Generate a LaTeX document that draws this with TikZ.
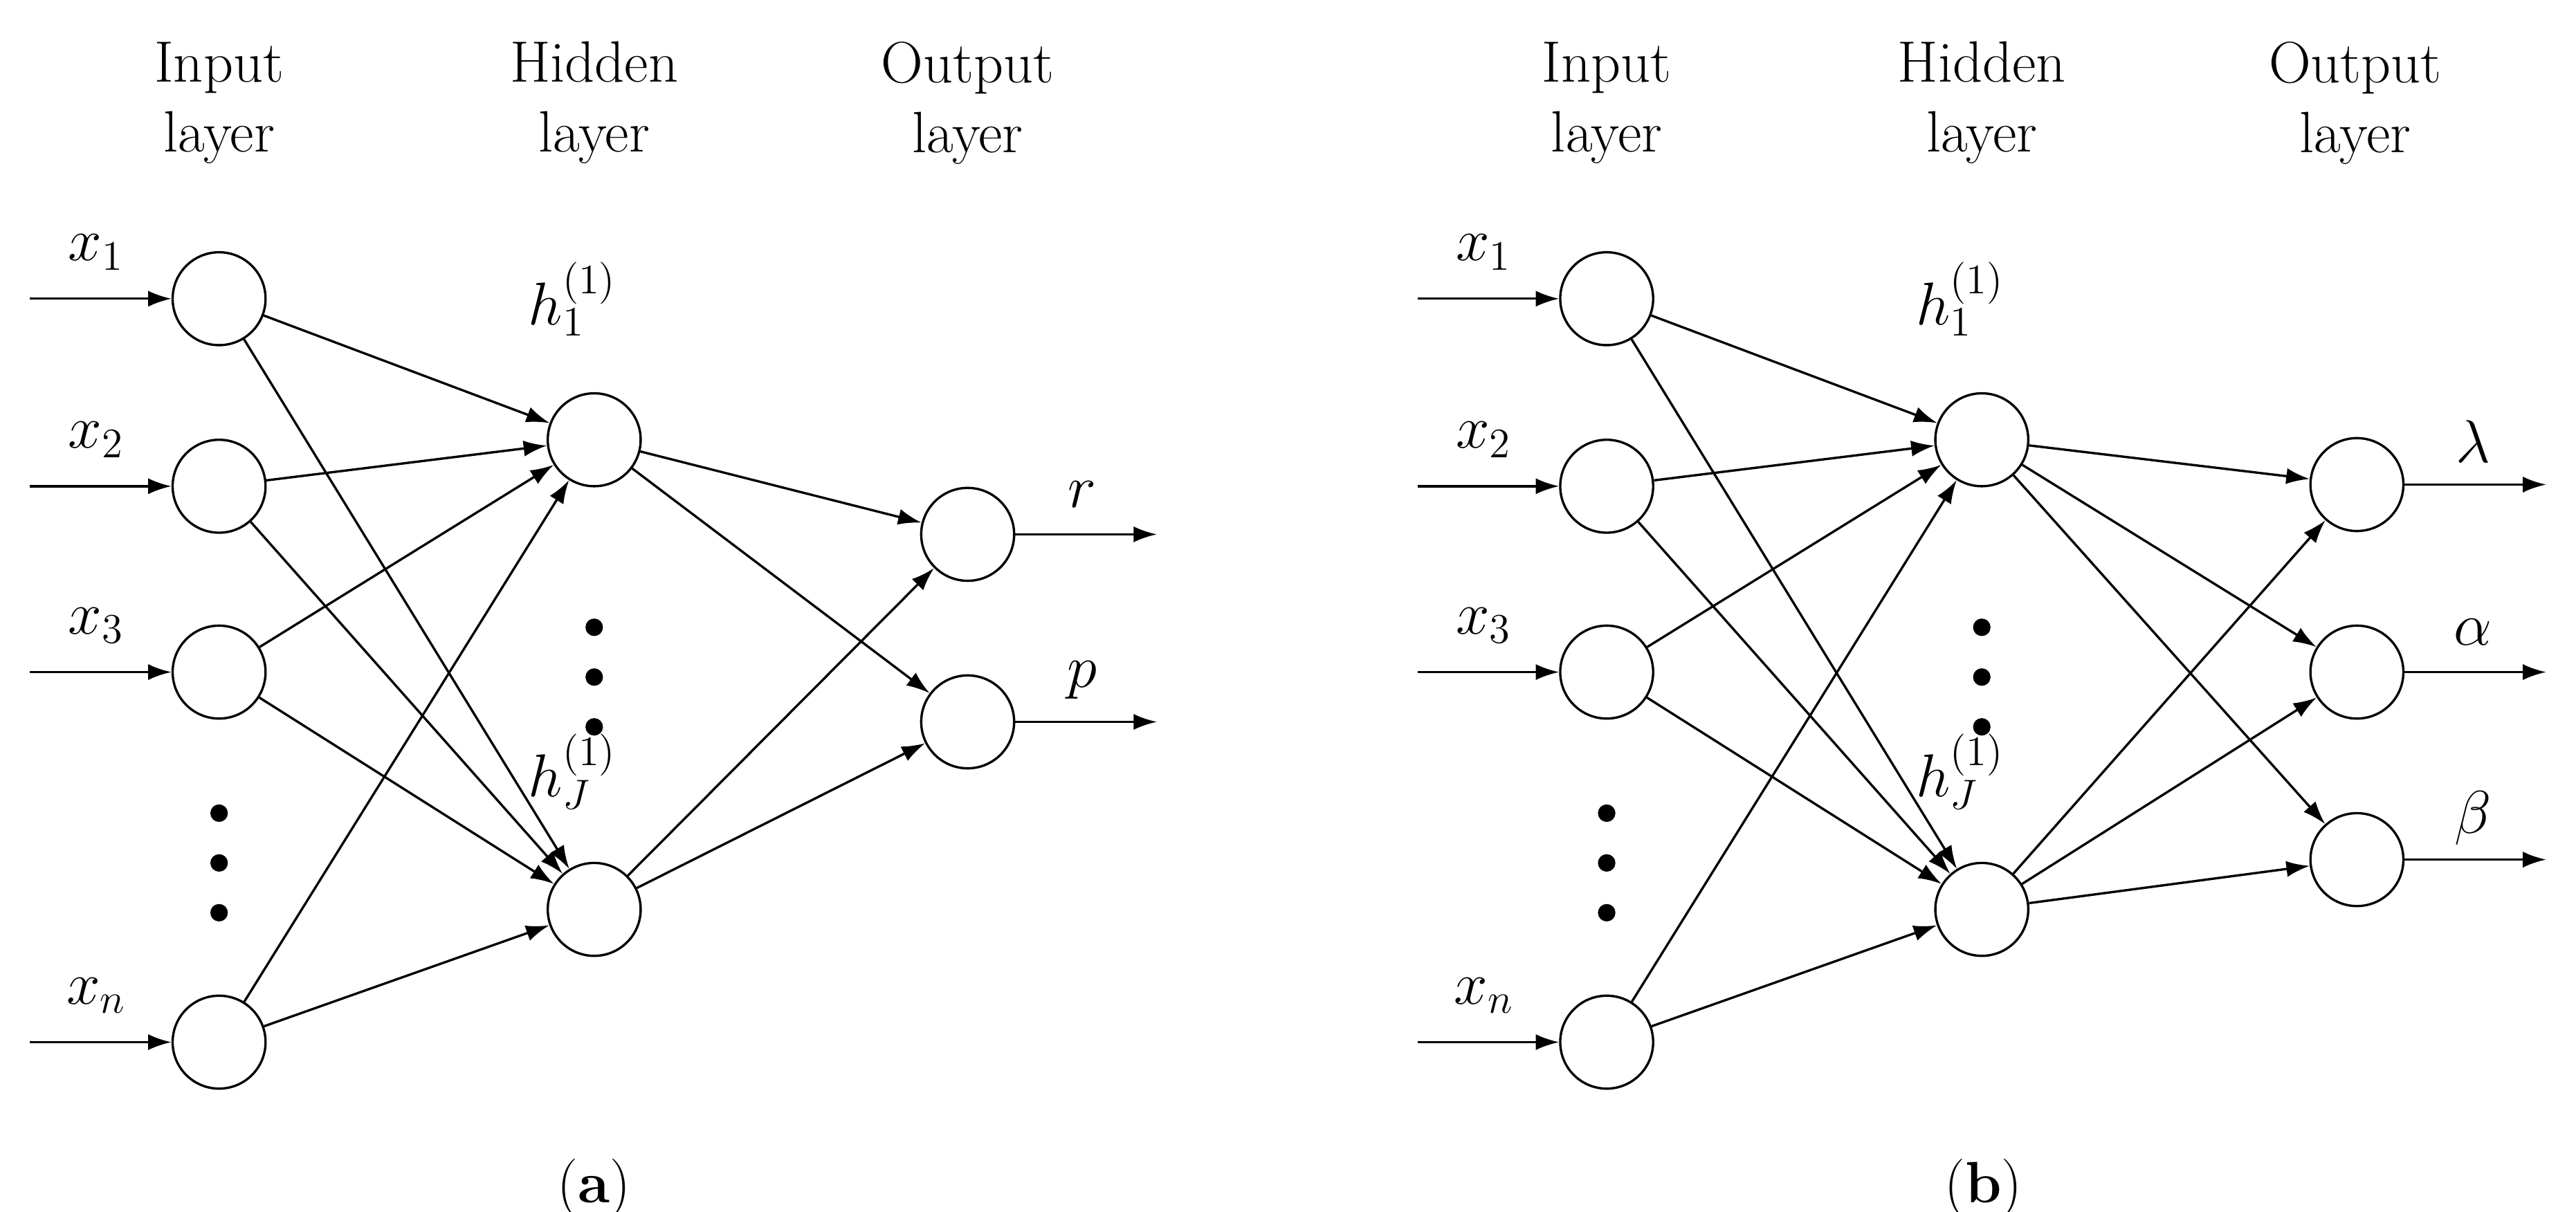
\documentclass[tikz,border=0pt]{standalone}
\usetikzlibrary{arrows.meta}
\begin{document}
\begin{tikzpicture}[x=0.02cm,y=-0.02cm,
  neu/.style={circle,draw,line width=0.8pt,minimum size=1.12cm,inner sep=0pt},
  con/.style={line width=0.8pt,-{Latex[length=8pt,width=5.5pt]}},
  lab/.style={font=\fontsize{22}{26}\selectfont},
  hd/.style={font=\fontsize{20}{24}\selectfont,align=center},
  dot/.style={circle,fill,inner sep=0pt,minimum size=6pt}]
\useasboundingbox (0,0) rectangle (1552,730);
\foreach \ox/\nm in {0/a,836/b}{
  \begin{scope}[xshift=\ox*0.02cm]
  \node[hd] (hi\nm) at (132,62) {Input\\layer};
  \node[hd] (hh\nm) at (358,62) {Hidden\\layer};
  \node[hd] (ho\nm) at (583,62) {Output\\layer};
  \foreach \i/\y in {1/180,2/293,3/405,n/628}{
    \node[neu] (i\i\nm) at (132,\y) {};
    \coordinate (s\i\nm) at (18,\y);
    \draw[con] (s\i\nm) -- (i\i\nm);
    \node[lab] at (58,\y-28) {$x_{\i}$};
  }
  \foreach \y [count=\k] in {490,520,550}{\node[dot] (di\k\nm) at (132,\y) {};}
  \node[neu] (h1\nm) at (358,265) {};
  \node[neu] (hJ\nm) at (358,548) {};
  \foreach \y [count=\k] in {378,408,438}{\node[dot] (dh\k\nm) at (358,\y) {};}
  \node[lab] (lh1\nm) at (345,180) {$h_1^{(1)}$};
  \node[lab] (lhJ\nm) at (345,465) {$h_J^{(1)}$};
  \foreach \i in {1,2,3,n}{\foreach \h in {1,J}{\draw[con] (i\i\nm) -- (h\h\nm);}}
  \end{scope}
}
% outputs (a)
\node[neu] (o1a) at (583,322) {};
\node[neu] (o2a) at (583,435) {};
\coordinate (e1a) at (697,322); \coordinate (e2a) at (697,435);
\node[lab] at (652,298) {$r$};
\node[lab] at (652,410) {$p$};
\foreach \o in {1,2}{\foreach \h in {1,J}{\draw[con] (h\h a) -- (o\o a);}
  \draw[con] (o\o a) -- (e\o a);}
% outputs (b)
\node[neu] (o1b) at (1420,292) {};
\node[neu] (o2b) at (1420,405) {};
\node[neu] (o3b) at (1420,518) {};
\coordinate (e1b) at (1534,292); \coordinate (e2b) at (1534,405); \coordinate (e3b) at (1534,518);
\node[lab] at (1490,266) {$\lambda$};
\node[lab] at (1490,381) {$\alpha$};
\node[lab] at (1490,493) {$\beta$};
\foreach \o in {1,2,3}{\foreach \h in {1,J}{\draw[con] (h\h b) -- (o\o b);}
  \draw[con] (o\o b) -- (e\o b);}
\node[hd] (ca) at (358,716) {(\textbf{a})};
\node[hd] (cb) at (1195,716) {(\textbf{b})};
\end{tikzpicture}
\end{document}
